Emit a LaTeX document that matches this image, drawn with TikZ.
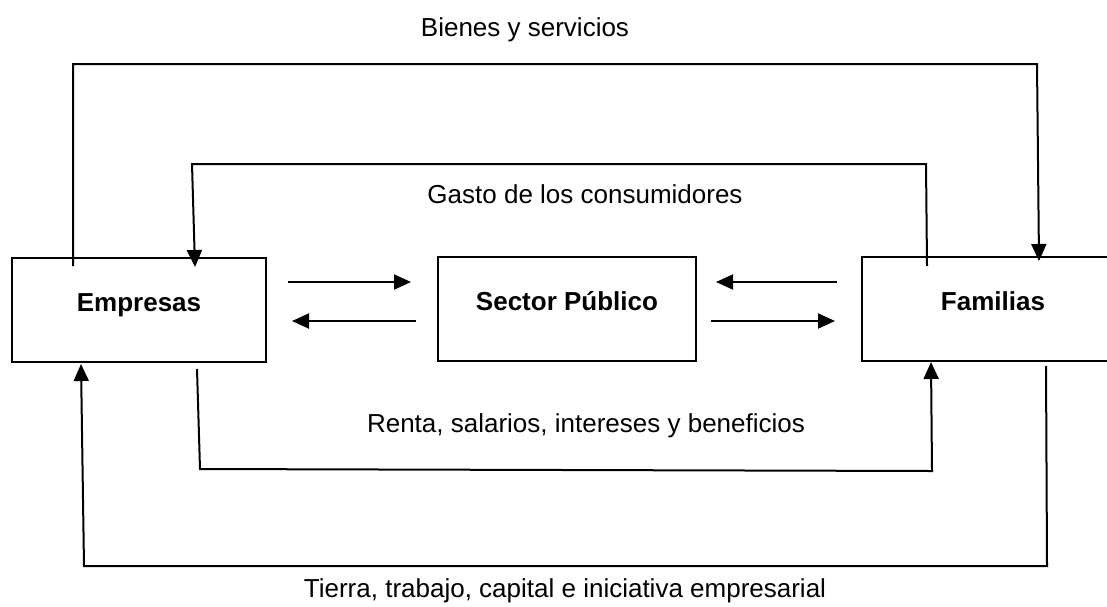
\documentclass[tikz,border=0pt]{standalone}
\usepackage{fontspec}
\setmainfont{Liberation Sans}
\usetikzlibrary{arrows.meta}

\begin{document}
\begin{tikzpicture}[x=0.5pt,y=-0.5pt,
  caja/.style={rectangle,draw,line width=1pt,minimum width=129pt,minimum height=52pt,font=\bfseries\fontsize{13}{15}\selectfont,text height=9.4pt,text depth=8.4pt},
  flecha/.style={line width=1pt,-{Triangle[length=8.5pt,width=7.5pt]}},
  etiqueta/.style={anchor=base,font=\fontsize{13}{15}\selectfont}]
  \useasboundingbox (0,0) rectangle (1107,606);

  %SECTORES
  \node[caja,minimum width=127pt] (empresas) at (139,310){Empresas};
  \node[caja] (sector) at (567,309){Sector P\'ublico};
  \node[caja,minimum width=131pt] (familias) at (993,309){Familias};

  %flechas con el sector publico
  \draw[flecha] ([shift={(21,-28)}]empresas.east) -- ([shift={(-26,-27)}]sector.west);
  \draw[flecha] ([shift={(-21,12)}]sector.west) -- ([shift={(25,11)}]empresas.east);
  \draw[flecha] ([shift={(-24,-27)}]familias.west) -- ([shift={(19,-27)}]sector.east);
  \draw[flecha] ([shift={(14,12)}]sector.east) -- ([shift={(-26,12)}]familias.west);

  %circuito de arriba
  \coordinate (bienes) at (1037,64);
  \draw[flecha] ([shift={(62,9)}]empresas.north west) |- (bienes) -- ([shift={(178,5)}]familias.north west);
  \node[etiqueta] (lbienes) at (525,36){Bienes y servicios};

  \coordinate (gasto1) at (926,164);
  \coordinate (gasto2) at (192,164);
  \draw[flecha] ([shift={(66,10)}]familias.north west) -- (gasto1) -- (gasto2) -- ([shift={(184,10)}]empresas.north west);
  \node[etiqueta] (lgasto) at (585,203){Gasto de los consumidores};

  %circuito de abajo
  \coordinate (renta1) at (200,469);
  \coordinate (renta2) at (932,471);
  \draw[flecha] ([shift={(186,6)}]empresas.south west) -- (renta1) -- (renta2) -- ([shift={(70,0)}]familias.south west);
  \node[etiqueta] (lrenta) at (586,432){Renta, salarios, intereses y beneficios};

  \coordinate (tierra1) at (1047,566);
  \coordinate (tierra2) at (84,566);
  \draw[flecha] ([shift={(185,4)}]familias.south west) -- (tierra1) -- (tierra2) -- ([shift={(70,1)}]empresas.south west);
  \node[etiqueta] (ltierra) at (565,597){Tierra, trabajo, capital e iniciativa empresarial};

\end{tikzpicture}
\end{document}
